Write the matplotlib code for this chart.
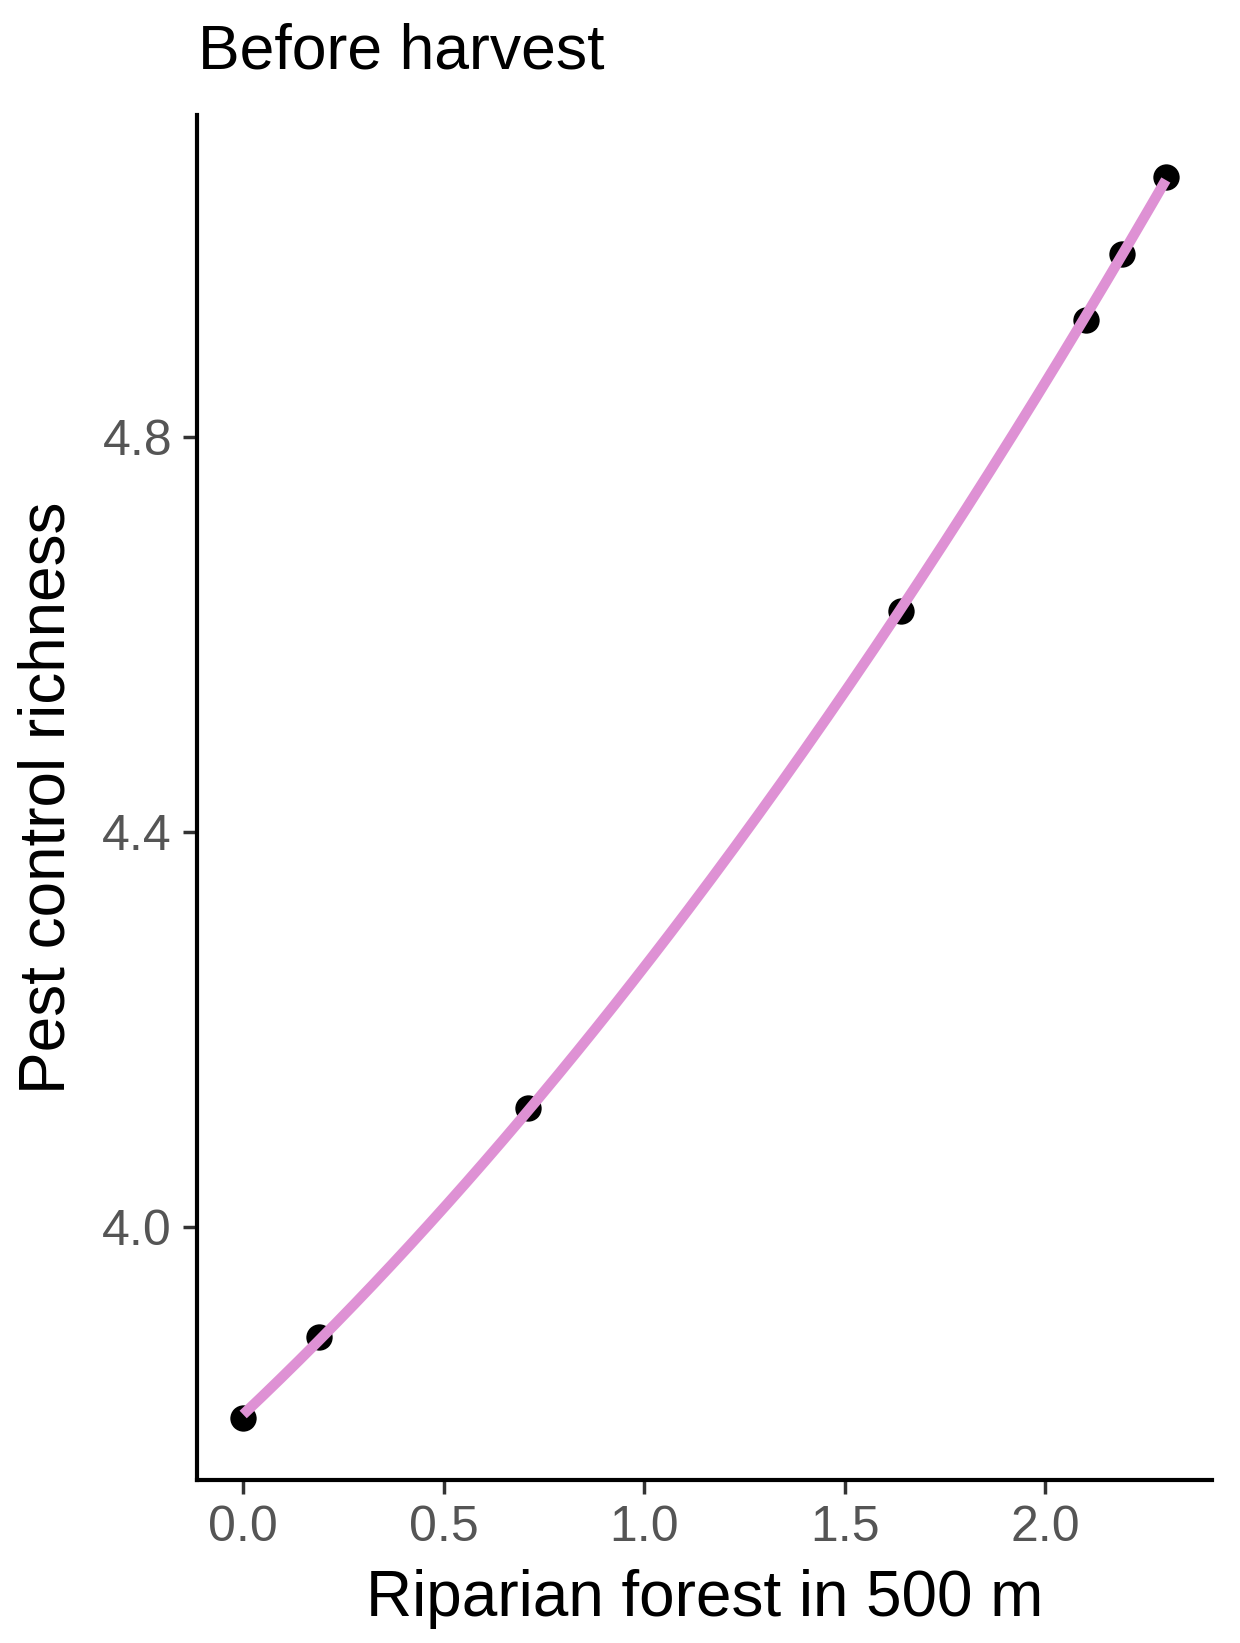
import numpy as np
import matplotlib
matplotlib.use("Agg")
import matplotlib.pyplot as plt

plt.rcParams['font.family'] = ['Liberation Sans', 'DejaVu Sans']

# Data
riparian_forest = [0.0, 0.19, 0.71, 1.64, 2.10, 2.19, 2.30]
pest_richness = [3.806, 3.888, 4.120, 4.624, 4.919, 4.986, 5.064]
x_ticks = [0.0, 0.5, 1.0, 1.5, 2.0]
y_ticks = [4.0, 4.4, 4.8]
title = "Before harvest"
xlabel = "Riparian forest in 500 m"
ylabel = "Pest control richness"

x = np.array(riparian_forest)
y = np.array(pest_richness)

fig = plt.figure(figsize=(12.4, 16.43), dpi=100)
ax = fig.add_axes([0.1589, 0.0992, 0.8185, 0.8308])

# smooth fitted line
coef = np.polyfit(x, y, 2)
xs = np.linspace(x.min(), x.max(), 200)
ax.scatter(x, y, s=360, color='black', zorder=2, linewidths=0)
ax.plot(xs, np.polyval(coef, xs), color='#DE91D4', lw=7.5, zorder=3,
        solid_capstyle='butt')

xr = x.max() - x.min()
yr = y.max() - y.min()
ax.set_xlim(x.min() - 0.05 * xr, x.max() + 0.05 * xr)
ax.set_ylim(y.min() - 0.05 * yr, y.max() + 0.05 * yr)

ax.set_xticks(x_ticks)
ax.set_xticklabels([f"{v:.1f}" for v in x_ticks])
ax.set_yticks(y_ticks)
ax.set_yticklabels([f"{v:.1f}" for v in y_ticks])

for s in ['top', 'right']:
    ax.spines[s].set_visible(False)
for s in ['left', 'bottom']:
    ax.spines[s].set_linewidth(3)
    ax.spines[s].set_color('black')

ax.tick_params(axis='both', length=10, width=2.5, color='#333333',
               labelsize=36, labelcolor='#555555', pad=8)

ax.set_xlabel(xlabel, fontsize=46, color='black', labelpad=13)
ax.set_ylabel(ylabel, fontsize=46, color='black', labelpad=18)
fig.text(0.160, 0.9586, title, fontsize=45, color='black', ha='left',
         va='baseline')

fig.savefig("out.png", dpi=100, facecolor='white')
